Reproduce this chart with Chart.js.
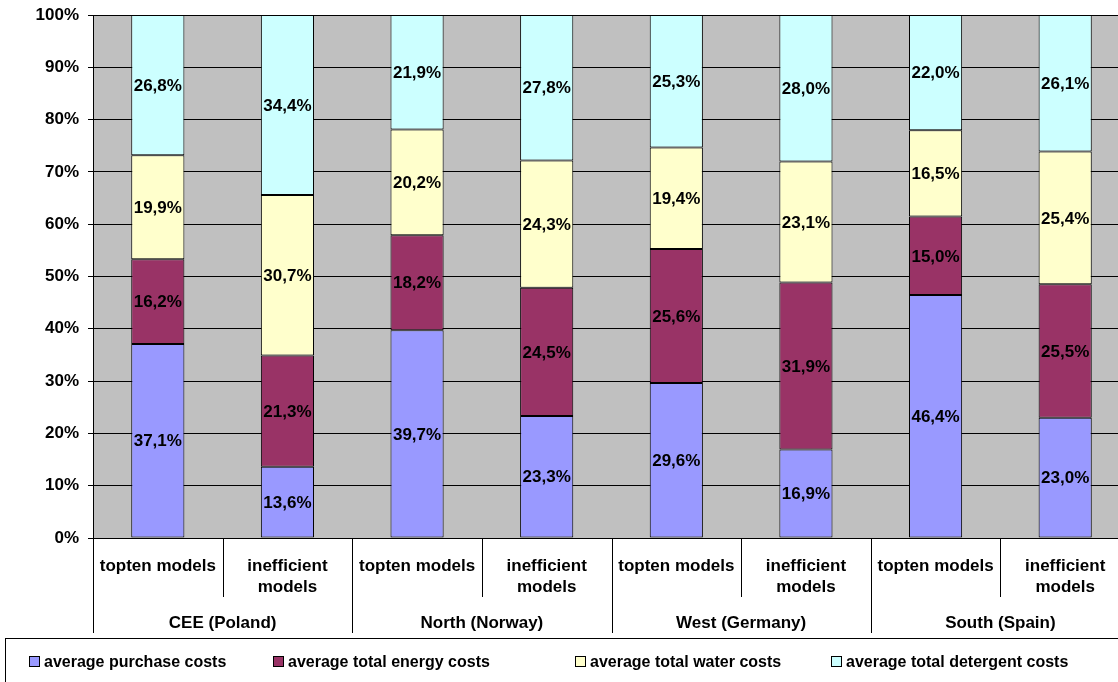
<!DOCTYPE html>
<html>
<head>
<meta charset="utf-8">
<script src="https://cdn.jsdelivr.net/npm/chart.js@4.4.1/dist/chart.umd.min.js"></script>
<style>
  html, body { margin: 0; padding: 0; background: #fff; overflow: hidden; }
  #wrap { width: 1130px; height: 682px; }
</style>
</head>
<body>
<div id="wrap"><canvas id="costChart" width="1130" height="682"></canvas></div>
<script>
// categories: two levels
const subLabels = [['topten models'], ['inefficient', 'models'], ['topten models'], ['inefficient', 'models'],
                   ['topten models'], ['inefficient', 'models'], ['topten models'], ['inefficient', 'models']];
const groupLabels = ['CEE (Poland)', 'North (Norway)', 'West (Germany)', 'South (Spain)'];

// series values (% of lifetime costs)
const purchase  = [37.1, 13.6, 39.7, 23.3, 29.6, 16.9, 46.4, 23.0];
const energy    = [16.2, 21.3, 18.2, 24.5, 25.6, 31.9, 15.0, 25.5];
const water     = [19.9, 30.7, 20.2, 24.3, 19.4, 23.1, 16.5, 25.4];
const detergent = [26.8, 34.4, 21.9, 27.8, 25.3, 28.0, 22.0, 26.1];

const seriesNames = ['average purchase costs', 'average total energy costs',
                     'average total water costs', 'average total detergent costs'];
const seriesColors = ['#9999FF', '#993366', '#FFFFCC', '#CCFFFF'];

const yTicks = [0, 10, 20, 30, 40, 50, 60, 70, 80, 90, 100];

const FAMILY = '"Liberation Sans", Arial, sans-serif';
const FONT = 'bold 17px ' + FAMILY;
const LEGEND_FONT = 'bold 16px ' + FAMILY;
const allSeries = [purchase, energy, water, detergent];

// 100% stacked: scale each column to its total
const totals = purchase.map((_, i) => allSeries.reduce((s, arr) => s + arr[i], 0));

const datasets = allSeries.map((arr, k) => ({
    label: seriesNames[k],
    data: arr.map((v, i) => v / totals[i] * 100),
    raw: arr,
    backgroundColor: seriesColors[k],
    borderColor: '#000',
    borderWidth: 1,
    borderSkipped: false,
    barPercentage: 0.41,
    categoryPercentage: 1.0
}));

const plotBg = {
    id: 'plotBg',
    beforeDraw(chart) {
        const { ctx, chartArea: a } = chart;
        ctx.save();
        ctx.fillStyle = '#C0C0C0';
        ctx.fillRect(a.left, a.top, a.right - a.left, a.bottom - a.top);
        ctx.restore();
    }
};

const valueLabels = {
    id: 'valueLabels',
    afterDatasetsDraw(chart) {
        const ctx = chart.ctx;
        ctx.save();
        ctx.font = FONT;
        ctx.fillStyle = '#000';
        ctx.textAlign = 'center';
        ctx.textBaseline = 'middle';
        chart.data.datasets.forEach((ds, k) => {
            chart.getDatasetMeta(k).data.forEach((bar, i) => {
                const txt = ds.raw[i].toFixed(1).replace('.', ',') + '%';
                ctx.fillText(txt, bar.x, (bar.y + bar.base) / 2 + 1);
            });
        });
        ctx.restore();
    }
};

const axisAndLegend = {
    id: 'axisAndLegend',
    afterDraw(chart) {
        const ctx = chart.ctx;
        const xs = chart.scales.x;
        const a = chart.chartArea;
        const step = xs.getPixelForValue(1) - xs.getPixelForValue(0);
        ctx.save();
        ctx.strokeStyle = '#000';
        ctx.lineWidth = 1;
        ctx.font = FONT;
        ctx.fillStyle = '#000';
        ctx.textAlign = 'center';
        ctx.textBaseline = 'middle';

        // category labels
        subLabels.forEach((lines, i) => {
            const x = xs.getPixelForValue(i);
            lines.forEach((t, j) => ctx.fillText(t, x, a.bottom + 28 + j * 21));
        });
        // group labels
        groupLabels.forEach((t, g) => {
            const x = (xs.getPixelForValue(2 * g) + xs.getPixelForValue(2 * g + 1)) / 2;
            ctx.fillText(t, x, a.bottom + 85);
        });
        // separators
        for (let i = 0; i <= subLabels.length; i++) {
            const x = Math.round(xs.getPixelForValue(i) - step / 2) + 0.5;
            const len = (i % 2 === 0) ? 95 : 59;
            ctx.beginPath();
            ctx.moveTo(x, a.bottom);
            ctx.lineTo(x, a.bottom + len);
            ctx.stroke();
        }

        // legend box
        ctx.strokeStyle = '#000';
        ctx.strokeRect(5.5, 638.5, 1300, 100);
        const legendX = [29, 273, 575, 831];
        ctx.font = LEGEND_FONT;
        ctx.textAlign = 'left';
        seriesNames.forEach((name, k) => {
            const x = legendX[k];
            ctx.fillStyle = seriesColors[k];
            ctx.fillRect(x + 0.5, 656.5, 10, 10);
            ctx.strokeRect(x + 0.5, 656.5, 10, 10);
            ctx.fillStyle = '#000';
            ctx.fillText(name, x + 15, 663);
        });
        ctx.restore();
    }
};

new Chart(document.getElementById('costChart'), {
    type: 'bar',
    data: { labels: subLabels.map(l => l.join(' ')), datasets: datasets },
    options: {
        responsive: false,
        animation: false,
        devicePixelRatio: 1,
        layout: { padding: { top: 15, right: 0, bottom: 50, left: 0 } },
        plugins: {
            legend: { display: false },
            tooltip: { enabled: false }
        },
        scales: {
            x: {
                stacked: true,
                grid: { display: false },
                border: { display: false },
                ticks: { display: false },
                afterFit(scale) { scale.height = 94; }
            },
            y: {
                stacked: true,
                min: 0,
                max: 100,
                afterBuildTicks(scale) { scale.ticks = yTicks.map(v => ({ value: v })); },
                afterFit(scale) {
                    scale.width = 93;
                    scale.paddingTop = 0;
                    scale.paddingBottom = 0;
                },
                ticks: {
                    callback: v => v + '%',
                    color: '#000',
                    font: { family: FAMILY, size: 17, weight: 'bold' },
                    padding: 9
                },
                grid: { color: '#000', lineWidth: 1, tickLength: 5 },
                border: { color: '#000', width: 1 }
            }
        }
    },
    plugins: [plotBg, valueLabels, axisAndLegend]
});
</script>
</body>
</html>
